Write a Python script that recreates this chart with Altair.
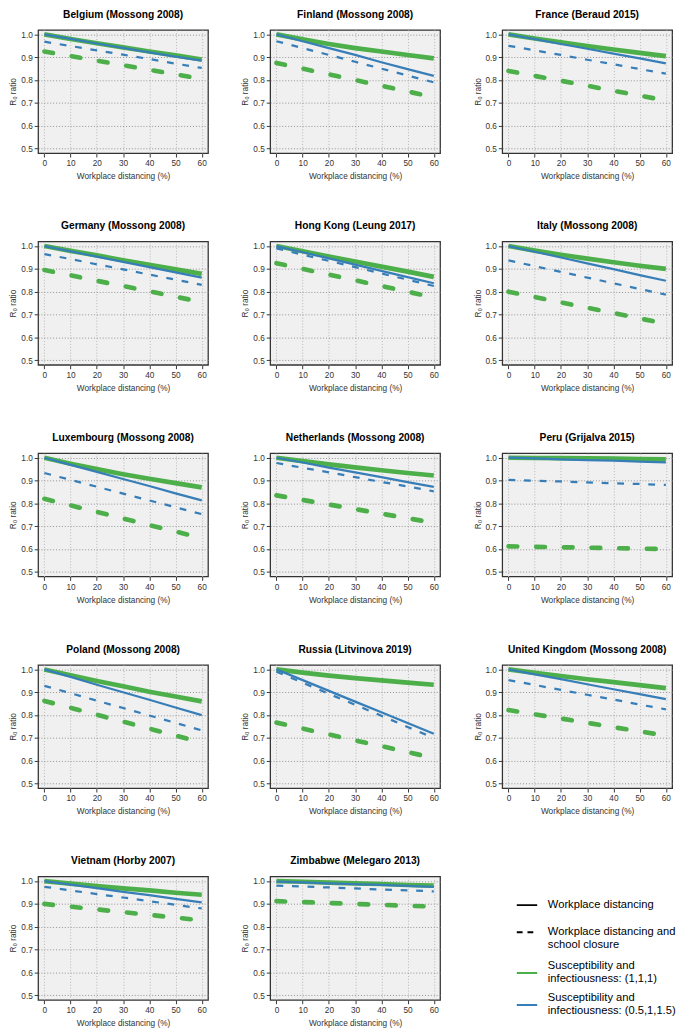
import altair as alt
import pandas as pd

GREEN = "#4daf4a"
BLUE = "#377eb8"

x_vals = [0, 10, 20, 30, 40, 50, 60]

panels = [
    "Belgium (Mossong 2008)", "Finland (Mossong 2008)", "France (Beraud 2015)",
    "Germany (Mossong 2008)", "Hong Kong (Leung 2017)", "Italy (Mossong 2008)",
    "Luxembourg (Mossong 2008)", "Netherlands (Mossong 2008)", "Peru (Grijalva 2015)",
    "Poland (Mossong 2008)", "Russia (Litvinova 2019)", "United Kingdom (Mossong 2008)",
    "Vietnam (Horby 2007)", "Zimbabwe (Melegaro 2013)",
]

# workplace distancing, susceptibility (1,1,1)
green_solid = {
    "Belgium (Mossong 2008)": [1.0, 0.980, 0.961, 0.943, 0.925, 0.908, 0.890],
    "Finland (Mossong 2008)": [1.0, 0.978, 0.958, 0.940, 0.925, 0.910, 0.895],
    "France (Beraud 2015)": [1.0, 0.982, 0.965, 0.949, 0.934, 0.919, 0.905],
    "Germany (Mossong 2008)": [1.0, 0.979, 0.959, 0.938, 0.918, 0.898, 0.878],
    "Hong Kong (Leung 2017)": [1.0, 0.977, 0.954, 0.932, 0.910, 0.888, 0.865],
    "Italy (Mossong 2008)": [1.0, 0.980, 0.962, 0.945, 0.929, 0.914, 0.900],
    "Luxembourg (Mossong 2008)": [1.0, 0.974, 0.950, 0.928, 0.908, 0.889, 0.870],
    "Netherlands (Mossong 2008)": [1.0, 0.985, 0.971, 0.958, 0.945, 0.933, 0.922],
    "Peru (Grijalva 2015)": [1.0, 0.999, 0.998, 0.997, 0.996, 0.994, 0.993],
    "Poland (Mossong 2008)": [1.0, 0.974, 0.949, 0.926, 0.902, 0.881, 0.860],
    "Russia (Litvinova 2019)": [1.0, 0.986, 0.973, 0.962, 0.952, 0.942, 0.933],
    "United Kingdom (Mossong 2008)": [1.0, 0.985, 0.971, 0.957, 0.944, 0.931, 0.918],
    "Vietnam (Horby 2007)": [1.0, 0.989, 0.978, 0.968, 0.959, 0.949, 0.940],
    "Zimbabwe (Melegaro 2013)": [1.0, 0.997, 0.993, 0.990, 0.987, 0.983, 0.980],
}

# workplace distancing, susceptibility (0.5,1,1.5)
blue_solid = {
    "Belgium (Mossong 2008)": [1.0, 0.980, 0.960, 0.941, 0.921, 0.903, 0.885],
    "Finland (Mossong 2008)": [1.0, 0.970, 0.940, 0.910, 0.878, 0.848, 0.818],
    "France (Beraud 2015)": [1.0, 0.979, 0.958, 0.937, 0.916, 0.895, 0.873],
    "Germany (Mossong 2008)": [1.0, 0.977, 0.954, 0.931, 0.908, 0.885, 0.862],
    "Hong Kong (Leung 2017)": [1.0, 0.973, 0.946, 0.919, 0.891, 0.864, 0.837],
    "Italy (Mossong 2008)": [1.0, 0.975, 0.950, 0.924, 0.899, 0.873, 0.848],
    "Luxembourg (Mossong 2008)": [1.0, 0.969, 0.938, 0.907, 0.876, 0.844, 0.813],
    "Netherlands (Mossong 2008)": [1.0, 0.979, 0.957, 0.936, 0.915, 0.893, 0.872],
    "Peru (Grijalva 2015)": [1.0, 0.997, 0.993, 0.990, 0.987, 0.983, 0.980],
    "Poland (Mossong 2008)": [1.0, 0.967, 0.933, 0.900, 0.867, 0.833, 0.800],
    "Russia (Litvinova 2019)": [1.0, 0.953, 0.906, 0.859, 0.812, 0.765, 0.718],
    "United Kingdom (Mossong 2008)": [1.0, 0.978, 0.957, 0.935, 0.913, 0.892, 0.870],
    "Vietnam (Horby 2007)": [1.0, 0.984, 0.969, 0.953, 0.938, 0.922, 0.907],
    "Zimbabwe (Melegaro 2013)": [0.998, 0.994, 0.990, 0.987, 0.983, 0.979, 0.975],
}

# workplace distancing and school closure, susceptibility (1,1,1)
green_dashed = {
    "Belgium (Mossong 2008)": [0.925, 0.905, 0.885, 0.865, 0.845, 0.825, 0.805],
    "Finland (Mossong 2008)": [0.875, 0.850, 0.825, 0.800, 0.775, 0.750, 0.725],
    "France (Beraud 2015)": [0.840, 0.818, 0.797, 0.775, 0.753, 0.732, 0.710],
    "Germany (Mossong 2008)": [0.895, 0.872, 0.848, 0.825, 0.802, 0.778, 0.755],
    "Hong Kong (Leung 2017)": [0.925, 0.900, 0.875, 0.850, 0.825, 0.800, 0.775],
    "Italy (Mossong 2008)": [0.800, 0.777, 0.753, 0.730, 0.707, 0.683, 0.660],
    "Luxembourg (Mossong 2008)": [0.820, 0.791, 0.763, 0.734, 0.705, 0.677, 0.648],
    "Netherlands (Mossong 2008)": [0.835, 0.815, 0.795, 0.775, 0.755, 0.735, 0.715],
    "Peru (Grijalva 2015)": [0.612, 0.610, 0.608, 0.606, 0.604, 0.602, 0.600],
    "Poland (Mossong 2008)": [0.862, 0.832, 0.801, 0.771, 0.741, 0.710, 0.680],
    "Russia (Litvinova 2019)": [0.767, 0.741, 0.715, 0.689, 0.664, 0.638, 0.612],
    "United Kingdom (Mossong 2008)": [0.822, 0.803, 0.785, 0.766, 0.747, 0.729, 0.710],
    "Vietnam (Horby 2007)": [0.900, 0.888, 0.876, 0.864, 0.852, 0.840, 0.828],
    "Zimbabwe (Melegaro 2013)": [0.912, 0.908, 0.904, 0.900, 0.896, 0.892, 0.888],
}

# workplace distancing and school closure, susceptibility (0.5,1,1.5)
blue_dashed = {
    "Belgium (Mossong 2008)": [0.968, 0.949, 0.930, 0.911, 0.892, 0.872, 0.853],
    "Finland (Mossong 2008)": [0.970, 0.940, 0.910, 0.880, 0.850, 0.820, 0.790],
    "France (Beraud 2015)": [0.950, 0.930, 0.910, 0.889, 0.869, 0.848, 0.828],
    "Germany (Mossong 2008)": [0.965, 0.943, 0.920, 0.898, 0.875, 0.853, 0.830],
    "Hong Kong (Leung 2017)": [0.990, 0.962, 0.935, 0.908, 0.880, 0.853, 0.825],
    "Italy (Mossong 2008)": [0.937, 0.912, 0.887, 0.862, 0.837, 0.812, 0.787],
    "Luxembourg (Mossong 2008)": [0.933, 0.903, 0.873, 0.843, 0.813, 0.783, 0.753],
    "Netherlands (Mossong 2008)": [0.977, 0.956, 0.936, 0.915, 0.894, 0.874, 0.853],
    "Peru (Grijalva 2015)": [0.903, 0.899, 0.896, 0.892, 0.888, 0.885, 0.881],
    "Poland (Mossong 2008)": [0.928, 0.896, 0.863, 0.831, 0.798, 0.766, 0.733],
    "Russia (Litvinova 2019)": [0.990, 0.942, 0.893, 0.845, 0.797, 0.748, 0.700],
    "United Kingdom (Mossong 2008)": [0.953, 0.932, 0.910, 0.889, 0.868, 0.846, 0.825],
    "Vietnam (Horby 2007)": [0.975, 0.959, 0.943, 0.928, 0.912, 0.896, 0.880],
    "Zimbabwe (Melegaro 2013)": [0.980, 0.976, 0.972, 0.968, 0.963, 0.959, 0.955],
}

interventions = ["Workplace distancing", "Workplace distancing and|school closure"]
scenarios = ["Susceptibility and|infectiousness: (1,1,1)",
             "Susceptibility and|infectiousness: (0.5,1,1.5)"]

rows = []
for series, table, inter, scen in [
    ("gs", green_solid, interventions[0], scenarios[0]),
    ("gd", green_dashed, interventions[1], scenarios[0]),
    ("bs", blue_solid, interventions[0], scenarios[1]),
    ("bd", blue_dashed, interventions[1], scenarios[1]),
]:
    for p in panels:
        for xv, v in zip(x_vals, table[p]):
            rows.append({"panel": p, "series": series, "x": xv, "value": v,
                         "intervention": inter, "scenario": scen})
df = pd.DataFrame(rows)

FONT = "Liberation Sans"
W, H = 175, 127

xscale = alt.Scale(domain=[-2.4, 62.4], nice=False, zero=False)
yscale = alt.Scale(domain=[0.48, 1.02], nice=False, zero=False)

xaxis = alt.Axis(values=x_vals, title="Workplace distancing (%)", grid=True,
                 gridColor="#b5b5b5", gridDash=[1, 2], gridWidth=1)
yaxis = alt.Axis(values=[0.5, 0.6, 0.7, 0.8, 0.9, 1.0], format=".1f", title="R₀ ratio",
                 grid=True, gridColor="#8f8f8f", gridDash=[1, 2], gridWidth=1)

styles = {
    "gs": dict(color=GREEN, strokeWidth=4.8),
    "gd": dict(color=GREEN, strokeWidth=4.8, strokeDash=[9, 19.5], strokeCap="round"),
    "bs": dict(color=BLUE, strokeWidth=2.3),
    "bd": dict(color=BLUE, strokeWidth=2.3, strokeDash=[7, 9]),
}


def panel(title):
    base = alt.Chart(df).transform_filter(alt.datum.panel == title)
    layers = []
    for s in ["gs", "gd", "bs", "bd"]:
        layers.append(
            base.transform_filter(alt.datum.series == s)
            .mark_line(**styles[s])
            .encode(x=alt.X("x:Q", scale=xscale, axis=xaxis),
                    y=alt.Y("value:Q", scale=yscale, axis=yaxis))
        )
    return alt.layer(*layers).properties(
        width=W, height=H,
        title=alt.TitleParams(title, fontSize=10.5, fontWeight="bold", font=FONT,
                              color="black", offset=5, anchor="middle"),
    )


legend_cell = (
    alt.Chart(df[df["panel"] == panels[0]])
    .mark_line(opacity=0)
    .encode(
        x=alt.X("x:Q", axis=None),
        y=alt.Y("value:Q", axis=None),
        detail="series:N",
        strokeDash=alt.StrokeDash(
            "intervention:N",
            scale=alt.Scale(domain=interventions, range=[[1, 0], [6, 5]]),
            legend=alt.Legend(title=None, orient="none", legendX=44, legendY=18,
                              symbolType="stroke", symbolSize=441, symbolStrokeColor="black",
                              symbolStrokeWidth=2, symbolOpacity=1, labelFontSize=11.5,
                              labelFont=FONT, labelColor="black", labelLimit=300,
                              labelOffset=10, rowPadding=11, padding=0,
                              labelExpr="split(datum.label, '|')"),
        ),
        color=alt.Color(
            "scenario:N",
            scale=alt.Scale(domain=scenarios, range=[GREEN, BLUE]),
            legend=alt.Legend(title=None, orient="none", legendX=44, legendY=81,
                              symbolType="M-1,0.65H1", symbolSize=441, symbolStrokeWidth=2,
                              symbolOpacity=1, symbolDash=[1, 0], labelFontSize=11.5,
                              labelFont=FONT, labelColor="black", labelLimit=300,
                              labelOffset=10, rowPadding=2, padding=0,
                              labelExpr="split(datum.label, '|')"),
        ),
    )
    .properties(width=170, height=H,
                view=alt.ViewBackground(fill="transparent", stroke="transparent"))
)

charts = [panel(p) for p in panels]
grid_rows = []
for i in range(0, 12, 3):
    grid_rows.append(alt.hconcat(*charts[i:i + 3], spacing=29))
grid_rows.append(
    alt.hconcat(charts[12], charts[13], legend_cell, spacing=29)
    .resolve_legend(color="independent", strokeDash="independent")
)

chart = (
    alt.vconcat(*grid_rows, spacing=40)
    .resolve_legend(color="independent", strokeDash="independent")
    .properties(padding={"top": -15, "left": 0, "right": 0, "bottom": 0})
    .configure(font=FONT)
    .configure_view(fill="#f0f0f0", stroke="#333333", strokeWidth=1.3)
    .configure_axis(domain=False, tickSize=4, tickColor="#333333", tickWidth=1,
                    labelFontSize=8.5, labelColor="#333333", labelPadding=2, labelFont=FONT,
                    titleFontSize=8.5, titleFontWeight="normal", titleColor="#333333",
                    titleFont=FONT)
    .configure_axisX(titlePadding=5)
    .configure_axisY(titlePadding=3)
)

chart.save("out.html", embed_options={"renderer": "svg", "actions": False})
